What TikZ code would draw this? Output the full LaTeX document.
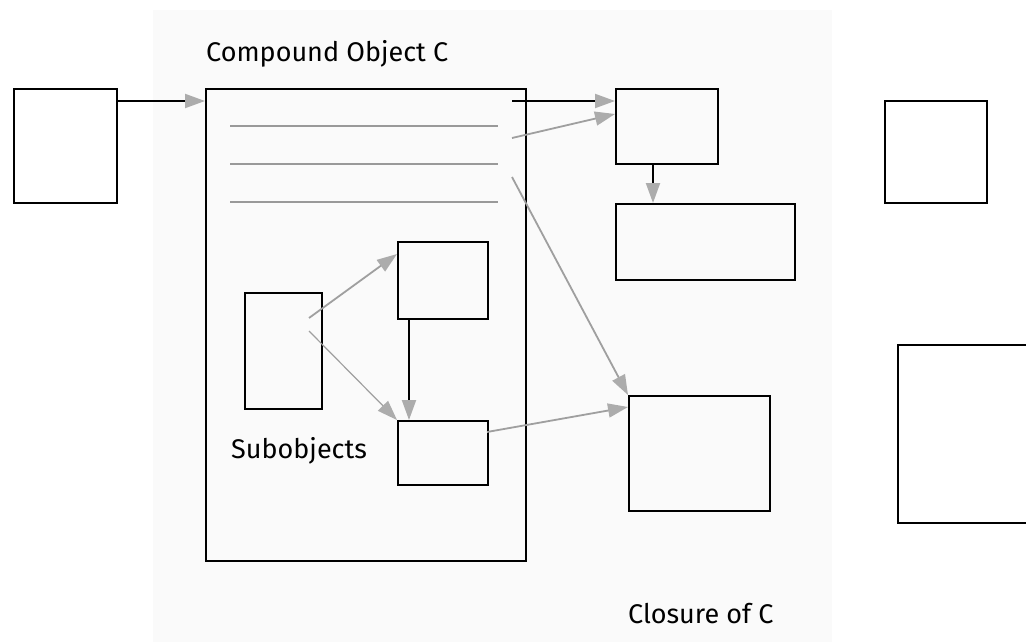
\documentclass[tikz,border=0pt]{standalone}
\usepackage{fontspec}
\setmainfont{Fira Sans}
\usetikzlibrary{arrows.meta}
\begin{document}
\begin{tikzpicture}[x=1pt,y=-1pt,
  box/.style={draw=black,line width=2.4pt,fill=white,inner sep=0pt,anchor=north west},
  tip/.style={-{Triangle[length=20pt,width=14pt,color=gray!65]}},
  blk/.style={tip,draw=black,line width=2pt},
  gry/.style={tip,draw=gray!75,line width=1.8pt},
  lbl/.style={font=\fontsize{27}{31}\selectfont,anchor=base west,inner sep=0pt}]
\useasboundingbox (0,0) rectangle (1026,642);
\fill[white] (0,0) rectangle (1026,642);
\fill[black!2] (153,10) rectangle (832,642);
% boxes
\node[box,minimum width=103pt,minimum height=114pt] (L) at (13,88) {};
\node[box,fill=black!2,minimum width=320pt,minimum height=472pt] (C) at (205,88) {};
\node[box,fill=black!2,minimum width=77pt,minimum height=116pt] (A) at (244,292) {};
\node[box,fill=black!2,minimum width=90pt,minimum height=77pt] (B) at (397,241) {};
\node[box,fill=black!2,minimum width=90pt,minimum height=64pt] (D) at (397,420) {};
\node[box,fill=black!2,minimum width=102pt,minimum height=75pt] (E) at (615,88) {};
\node[box,fill=black!2,minimum width=179pt,minimum height=76pt] (F) at (615,203) {};
\node[box,fill=black!2,minimum width=141pt,minimum height=115pt] (G) at (628,395) {};
\node[box,minimum width=102pt,minimum height=102pt] (R1) at (884,100) {};
\node[box,minimum width=140pt,minimum height=178pt] (R2) at (897,344) {};
% attribute lines
\foreach \y/\n in {126/l1,164/l2,202/l3}{
  \coordinate (\n a) at (230,\y); \coordinate (\n b) at (498,\y);
  \draw[gray!80,line width=1.2pt] (\n a) -- (\n b);
}
% labels
\node[lbl] (tC) at (206,62) {Compound Object C};
\node[lbl] (tS) at (231,458) {Subobjects};
\node[lbl] (tK) at (628,623) {Closure of C};
% connectors
\coordinate (c1) at (512,101);
\coordinate (c2) at (512,138);
\coordinate (c3) at (512,177);
\coordinate (a1) at (309,318);
\coordinate (a2) at (309,331);
\coordinate (d1) at (487,432);
\draw[blk] (L.east |- 0,101) -- (C.west |- 0,101);
\draw[blk] (c1) -- (E.west |- c1);
\draw[gry] (c2) -- (E.west |- 0,114);
\draw[gry] (c3) -- (G.north west);
\draw[gry] (a1) -- (397,254);
\draw[gry,line width=1.2pt] (a2) -- (D.north west);
\draw[blk] (409,318) -- (409,420);
\draw[gry] (d1) -- (G.west |- 0,407);
\draw[blk] (653,163) -- (653,203);
\end{tikzpicture}
\end{document}
